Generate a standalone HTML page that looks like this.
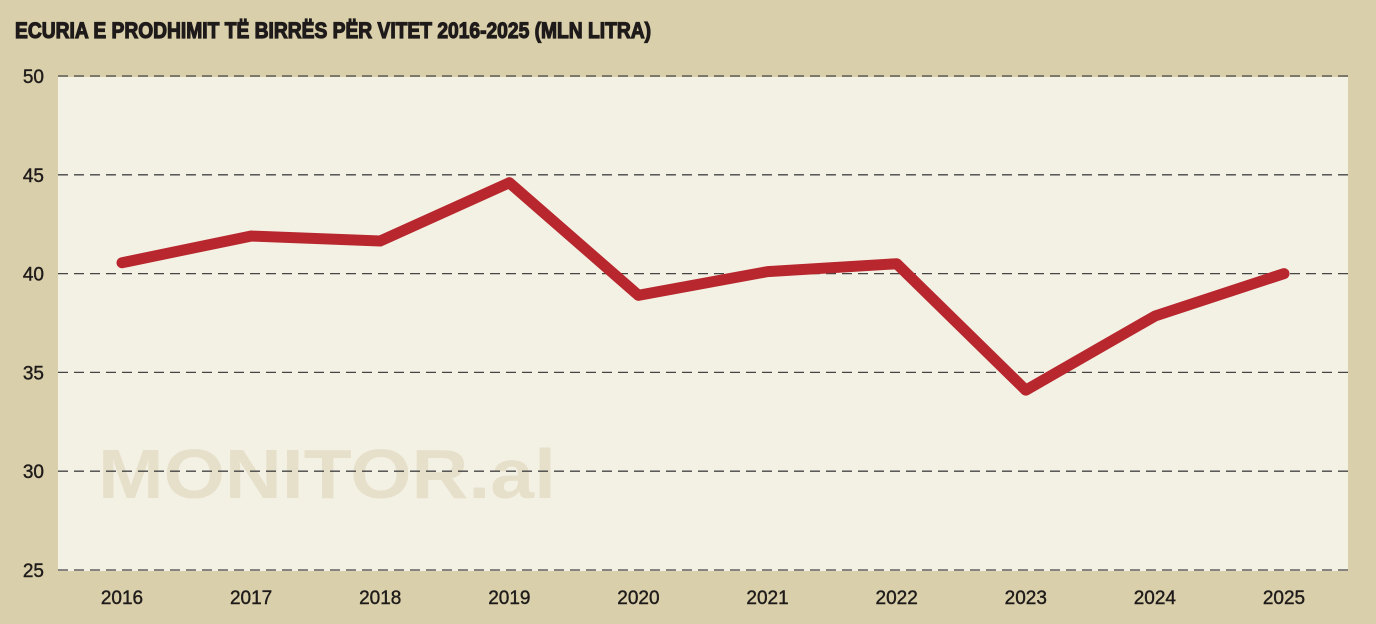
<!DOCTYPE html>
<html><head><meta charset="utf-8"><style>
html,body{margin:0;padding:0;background:#d9cfaa;}
svg{display:block;}
</style></head><body>
<svg id="chart" width="1376" height="624" viewBox="0 0 1376 624" xmlns="http://www.w3.org/2000/svg">
<rect x="0" y="0" width="1376" height="624" fill="#d9cfaa"/>
<text x="15" y="38" font-family="'Liberation Sans Narrow','Liberation Sans',sans-serif" font-weight="bold" font-size="22" fill="#1f1b1a" stroke="#1f1b1a" stroke-width="1.2" textLength="636" lengthAdjust="spacingAndGlyphs">ECURIA E PRODHIMIT TË BIRRËS PËR VITET 2016-2025 (MLN LITRA)</text>
<rect x="58" y="77" width="1290" height="494" fill="#f3f0e4"/>
<text x="98" y="498" font-family="'Liberation Sans',sans-serif" font-weight="bold" font-size="70" fill="#e6dfc9" textLength="458" lengthAdjust="spacingAndGlyphs">MONITOR.al</text>
<g id="grid"></g>
<g id="yticks"></g>
<g id="xticks"></g>
<g id="series"></g>
</svg>
<script>
const years = ['2016','2017','2018','2019','2020','2021','2022','2023','2024','2025'];
const production = [40.55, 41.9, 41.65, 44.6, 38.9, 40.1, 40.5, 34.1, 37.85, 40.0];
const yTickValues = [25, 30, 35, 40, 45, 50];

const NS = 'http://www.w3.org/2000/svg';
const yMin = 25, yMax = 50, yTop = 76, yBottom = 570;
const xFirst = 122, xLast = 1284;
function yScale(v){ return yBottom - (v - yMin) / (yMax - yMin) * (yBottom - yTop); }
function xScale(i){ return xFirst + i * (xLast - xFirst) / (years.length - 1); }

const grid = document.getElementById('grid');
const yt = document.getElementById('yticks');
yTickValues.forEach(v => {
  const y = yScale(v);
  const l = document.createElementNS(NS,'line');
  l.setAttribute('x1',58); l.setAttribute('x2',1348);
  l.setAttribute('y1',y); l.setAttribute('y2',y);
  l.setAttribute('stroke','#444'); l.setAttribute('stroke-width','1.3');
  l.setAttribute('stroke-dasharray','10 6');
  
  
  grid.appendChild(l);
  const t = document.createElementNS(NS,'text');
  t.setAttribute('x',44); t.setAttribute('y',y+7);
  t.setAttribute('text-anchor','end');
  t.setAttribute('font-family',"'Liberation Sans Narrow','Liberation Sans',sans-serif");
  t.setAttribute('font-size','19'); t.setAttribute('fill','#1f1b1a');
  t.setAttribute('stroke','#1f1b1a'); t.setAttribute('stroke-width','0.4');
  t.textContent = v;
  
  
  yt.appendChild(t);
});

const xt = document.getElementById('xticks');
years.forEach((yr,i) => {
  const t = document.createElementNS(NS,'text');
  t.setAttribute('x',xScale(i)); t.setAttribute('y',604);
  t.setAttribute('text-anchor','middle');
  t.setAttribute('font-family',"'Liberation Sans Narrow','Liberation Sans',sans-serif");
  t.setAttribute('font-size','19'); t.setAttribute('fill','#1f1b1a');
  t.setAttribute('stroke','#1f1b1a'); t.setAttribute('stroke-width','0.4');
  t.textContent = yr;
  
  
  xt.appendChild(t);
});

const pts = production.map((v,i) => xScale(i) + ',' + yScale(v)).join(' ');
const pl = document.createElementNS(NS,'polyline');
pl.setAttribute('points', pts);
pl.setAttribute('fill','none'); pl.setAttribute('stroke','#b8272e');
pl.setAttribute('stroke-width','11'); pl.setAttribute('stroke-linejoin','round');
pl.setAttribute('stroke-linecap','round');


document.getElementById('series').appendChild(pl);
</script>
</body></html>
